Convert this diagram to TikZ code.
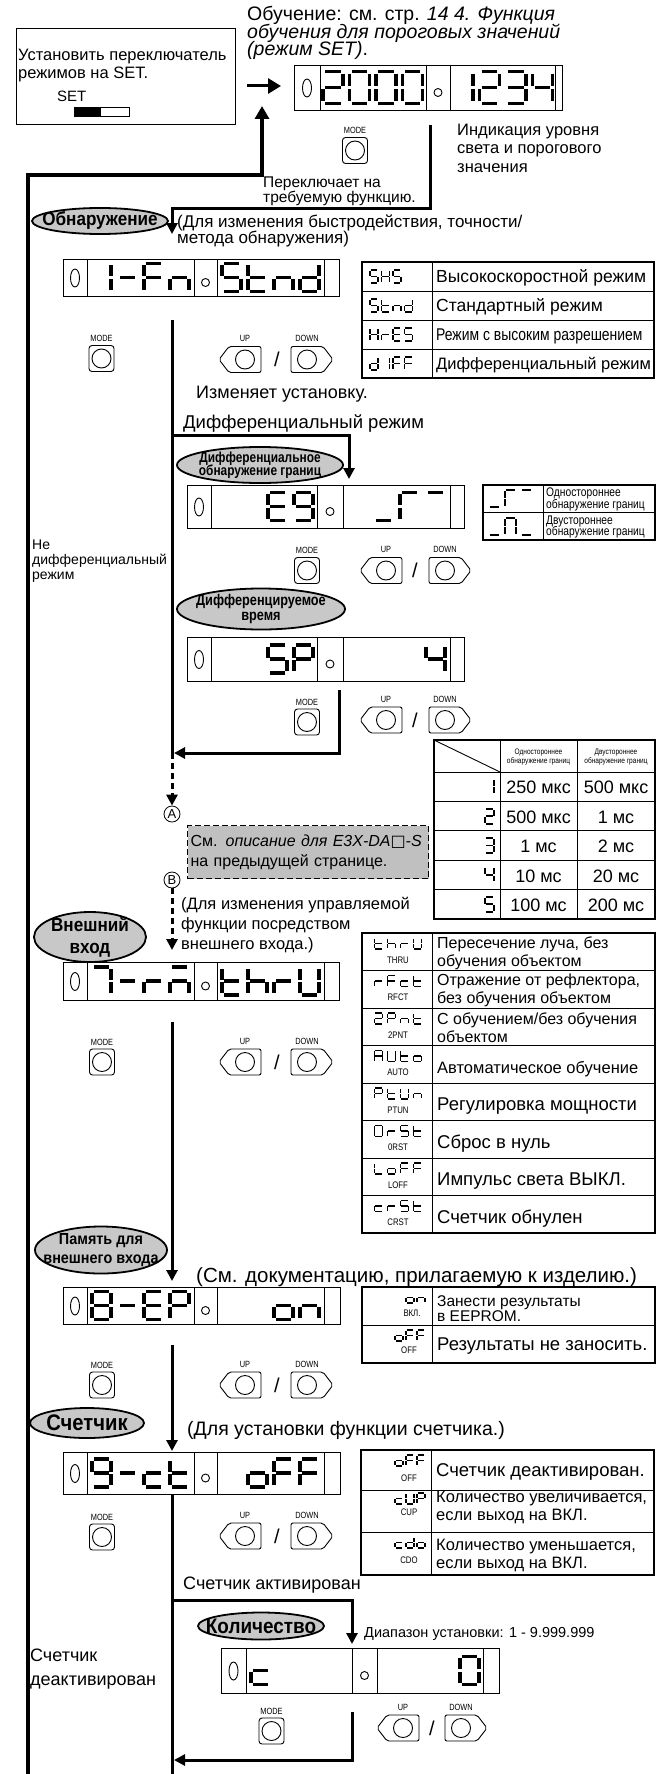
\documentclass[tikz,border=0pt]{standalone}
\usepackage{fontspec}
\setmainfont{Liberation Sans}
\newfontfamily\narrowfont[FakeStretch=0.82]{Liberation Sans}
\newfontfamily\ellfont[FakeStretch=0.9]{Liberation Sans}
\newfontfamily\symf{DejaVu Sans}
\usetikzlibrary{arrows.meta,positioning,shapes.geometric,backgrounds}
\definecolor{ellgray}{RGB}{200,200,200}
\definecolor{boxgray}{RGB}{192,192,192}
\newcommand\fsz[2]{\fontsize{#1}{#2}\selectfont\lineskiplimit=-60pt\relax}

% seven-segment pieces (unit box, y down)
\newcommand\sgdef[2]{\expandafter\def\csname sg#1\endcsname{#2}}
\sgdef{A}{(0.12,0)--(0.88,0)}
\sgdef{B}{(1,0.07)--(1,0.46)}
\sgdef{C}{(1,0.54)--(1,0.93)}
\sgdef{D}{(0.12,1)--(0.88,1)}
\sgdef{E}{(0,0.54)--(0,0.93)}
\sgdef{F}{(0,0.07)--(0,0.46)}
\sgdef{G}{(0.12,0.5)--(0.88,0.5)}
% glyphs
\newcommand\chdef[2]{\expandafter\def\csname ch#1\endcsname{#2}}
\chdef{0}{A,B,C,D,E,F}
\chdef{1}{B,C}
\chdef{2}{A,B,G,E,D}
\chdef{3}{A,B,G,C,D}
\chdef{4}{F,G,B,C}
\chdef{5}{A,F,G,C,D}
\chdef{7}{A,B,C}
\chdef{8}{A,B,C,D,E,F,G}
\chdef{9}{A,B,C,D,F,G}
\chdef{S}{A,F,G,C,D}
\chdef{m}{G}
\chdef{F}{A,F,G,E}
\chdef{n}{E,G,C}
\chdef{t}{F,E,G,D}
\chdef{d}{B,C,D,E,G}
\chdef{H}{F,B,G,E,C}
\chdef{r}{E,G}
\chdef{E}{A,F,G,E,D}
\chdef{P}{A,B,F,G,E}
\chdef{o}{G,C,D,E}
\chdef{U}{F,B,E,C,D}
\chdef{L}{F,E,D}
\chdef{c}{G,E,D}
\chdef{h}{F,E,G,C}
\chdef{A}{A,B,C,E,F,G}
\chdef{u}{D}
\chdef{a}{A}
\chdef{g}{A,F,E}
\chdef{N}{A,B,C,E,F}
\chdef{j}{A,E,G,C}

\tikzset{
  pics/sd/.style 2 args={code={%
    \foreach \sgs in #2{%
      \expandafter\let\expandafter\sgcur\csname sg\sgs\endcsname
      \draw[#1] \sgcur;}}},
  pics/modebtn/.style={code={%
    \draw[line width=0.9pt,rounded corners=3pt] (-12.5,-13) rectangle (12.5,13);
    \draw[line width=0.9pt] (0,0) circle [radius=9.5pt];
    \node[btnlbl] (-lbl) at (0,-20) {MODE};}},
  pics/upbtn/.style={code={%
    \draw[line width=0.9pt,rounded corners=2pt] (-21,0) -- (-11,-13) -- (21,-13) -- (21,13) -- (-11,13) -- cycle;
    \draw[line width=0.9pt] (5,0) circle [radius=9.5pt];
    \node[btnlbl] (-lbl) at (5,-21) {UP};}},
  pics/downbtn/.style={code={%
    \draw[line width=0.9pt,rounded corners=2pt] (21,0) -- (11,-13) -- (-21,-13) -- (-21,13) -- (11,13) -- cycle;
    \draw[line width=0.9pt] (-5,0) circle [radius=9.5pt];
    \node[btnlbl] (-lbl) at (-5,-21) {DOWN};}},
}

% row of segment glyphs: style, x, y(top), pitch, glyph list
\newcommand\segrow[5]{%
  \edef\seglist{#5}%
  \foreach \sgch [count=\i from 0] in \seglist {%
    \expandafter\let\expandafter\chcur\csname ch\sgch\endcsname
    \pic at ({#2+\i*#4},{#3}) {sd={#1}{\chcur}};}}

% inner cells of a display: node, four divider offsets
\newcommand\dispcells[5]{%
  \foreach \dx in {#2,#3,#4,#5}
    \draw[cellline] ([xshift=\dx pt]#1.north west) -- ([xshift=\dx pt]#1.south west);
  \draw[cellline] ([xshift={#2pt/2}]#1.west) ellipse [x radius=4.5pt,y radius=9pt];
  \draw[cellline] ([xshift={(#3pt+#4pt)/2},yshift=-4.5pt]#1.west) circle [radius=4pt];}

\begin{document}
\begin{tikzpicture}[x=1pt,y=-1pt,
  flow/.style={line width=3pt},
  arr/.style={flow,-{Triangle[length=11pt,width=11pt]}},
  dflow/.style={flow,dash pattern=on 6pt off 4pt},
  disp/.style={draw,line width=1pt,anchor=north west,inner sep=0pt},
  cellline/.style={line width=0.9pt},
  tbl/.style={line width=1.3pt},
  tline/.style={line width=0.9pt},
  txt/.style={inner sep=0pt,anchor=west,align=left},
  val/.style={inner sep=0pt,font=\fsz{18}{18}},
  clbl/.style={inner sep=0pt,font=\narrowfont\fsz{9.5}{10}},
  btnlbl/.style={inner sep=0pt,font=\narrowfont\fsz{9}{10}},
  hdr/.style={inner sep=0pt,align=center,font=\narrowfont\fsz{8}{9}},
  ellbg/.style={draw,line width=1.8pt,fill=ellgray},
  elltxt/.style={inner sep=0pt,align=center},
  circ/.style={circle,draw,line width=0.8pt,inner sep=0pt,minimum size=16pt,font=\fsz{13}{13}},
  seebox/.style={draw,line width=1.3pt,dash pattern=on 6pt off 3pt,fill=boxgray,anchor=north west,
    text width=235pt,inner sep=3pt,minimum height=53pt,align=left,font=\fsz{16}{20}},
  slash/.style={inner sep=0pt,font=\fsz{20}{20}},
  sgX/.style={line width=3.3pt,x=20pt,y=-32pt},
  sgL/.style={line width=3.2pt,x=19pt,y=-28pt},
  sgM/.style={line width=2pt,x=11pt,y=-17pt},
  sgD/.style={line width=1.8pt,x=9pt,y=-15pt},
  sgS/.style={line width=1.7pt,x=8pt,y=-13pt},
  sgT/.style={line width=1.5pt,x=8pt,y=-11pt}
]
\useasboundingbox (0,0) rectangle (667,1774);

% --- start: switch box and first display
\node[draw,line width=1.2pt,anchor=north west,minimum width=219pt,minimum height=96pt,inner sep=0pt] (setbox) at (16,28) {};
\node[txt,font=\fsz{16.5}{18}] (settxt) at (18,65.5) {Установить переключатель\\режимов на SET.};
\node[txt,font=\fsz{15}{16}] (setlbl) at (57,96) {SET};
\node[draw,fill=black,line width=0.9pt,anchor=north west,minimum width=25pt,minimum height=9pt,inner sep=0pt] (swk) at (74,107) {};
\node[draw,line width=0.9pt,anchor=north west,minimum width=29pt,minimum height=9pt,inner sep=0pt] (sww) at (swk.north east) {};
\node[txt,anchor=north west,font=\fsz{19.5}{17.5}] (title) at (247,6)
  {Обучение: см. стр. \textit{14 4. Функция}\\\textit{обучения для пороговых значений}\\\textit{(режим SET)}.};
\coordinate (ra1) at (247,86);
\coordinate (ra2) at (281,86);
\draw[flow,-{Triangle[length=13pt,width=15pt]}] (ra1) -- (ra2);

\node[disp,minimum width=268pt,minimum height=45pt] (d1) at (294,65) {};
\dispcells{d1}{26}{132}{156}{261}
\segrow{sgX}{323}{71.5}{26.5}{2,0,0,0}
\segrow{sgX}{453}{71.5}{26.5}{1,2,3,4}
\pic (mA) at (355,150.5) {modebtn};
\node[txt,font=\fsz{16.5}{18.5}] (indik) at (457,148) {Индикация уровня\\света и порогового\\значения};
\node[txt,font=\fsz{15.5}{15}] (perekl) at (263,191) {Переключает на\\требуемую функцию.};
\coordinate (l1a) at (430,125);
\coordinate (l1c) at (172,208);
\coordinate (l1d) at (172,234);
\draw[arr] (l1a) |- (l1c) -- (l1d);

% return loop on the left
\coordinate (lpA) at (28,1774);
\coordinate (lpB) at (28,175);
\coordinate (lpC) at (262,175);
\coordinate (lpD) at (262,106);
\draw[flow,line width=3.5pt,-{Triangle[length=13pt,width=14pt]}] (lpA) -- (lpB) -- (lpC) -- (lpD);

% --- detection
\node[elltxt,font=\ellfont\bfseries\fsz{19}{19}] (obn) at (100,221) {Обнаружение};
\node[txt,font=\fsz{17}{16}] (dlya1) at (177,231) {(Для изменения быстродействия, точности/\\метода обнаружения)};
\node[disp,minimum width=276pt,minimum height=37pt] (d2) at (63,259) {};
\dispcells{d2}{24}{131}{154}{261}
\segrow{sgL}{92}{263.5}{26}{1,m,F,n}
\segrow{sgL}{222}{263.5}{26}{S,t,n,d}

\draw[tbl] (362,262) rectangle (654,378);
\foreach \ry in {291,320,349} \draw[tline] (362,\ry) -- (654,\ry);
\draw[tline] (432,262) -- (432,378);
\foreach \cd/\tx/\fs [count=\k from 0] in {{5,H,5}/Высокоскоростной режим/17.5,
    {S,t,n,d}/Стандартный режим/17.5,
    {H,r,E,S}/{\narrowfont Режим с высоким разрешением}/17,
    {d,1,F,F}/Дифференциальный режим/16.5}{
  \segrow{sgS}{370}{262+29*\k+8}{11.5}{\cd}
  \node[txt,font=\fsz{\fs}{18}] (t1t\k) at (436,{262+29*\k+16}) {\tx};
}

\pic (mB) at (101.5,358.5) {modebtn};
\pic (uB) at (240,359.5) {upbtn};
\node[slash] (sB) at (277,359.5) {/};
\pic (dB) at (312,359.5) {downbtn};

\coordinate (f1) at (172,320);
\coordinate (f2) at (172,753);
\draw[flow] (f1) -- (f2);
\node[txt,font=\fsz{18}{18}] (izm) at (196,394) {Изменяет установку.};
\node[txt,font=\fsz{18.5}{20}] (difr) at (183,424) {Дифференциальный режим};
\coordinate (b1) at (172,435);
\coordinate (b2) at (349,435);
\coordinate (b3) at (349,479);
\draw[arr] (b1) -- (b2) -- (b3);

% --- differential edge detection
\node[elltxt,font=\narrowfont\bfseries\fsz{14.5}{13.5}] (e2) at (260,465) {Дифференциальное\\обнаружение границ};
\node[disp,minimum width=277pt,minimum height=43pt] (d3) at (187,485) {};
\dispcells{d3}{24}{130}{156}{263}
\segrow{sgL}{268}{492.5}{26}{E,9}
\segrow{sgL}{374}{492.5}{26}{u,g,a}
\draw[tbl] (483,485) rectangle (655,540);
\draw[tline] (483,512) -- (655,512);
\draw[tline] (543,485) -- (543,540);
\segrow{sgM}{489}{490}{16}{u,g,a}
\segrow{sgM}{489}{518}{16}{u,N,u}
\node[txt,font=\narrowfont\fsz{12.5}{11.5}] (t2a) at (546,499.5) {Одностороннее\\обнаружение границ};
\node[txt,font=\narrowfont\fsz{12.5}{11.5}] (t2b) at (546,527) {Двустороннее\\обнаружение границ};
\node[txt,font=\fsz{14}{15}] (nedif) at (32,561.5) {Не\\дифференциальный\\режим};
\pic (mC) at (307,570.5) {modebtn};
\pic (uC) at (381,570.5) {upbtn};
\node[slash] (sC) at (415,570.5) {/};
\pic (dC) at (450,570.5) {downbtn};

% --- differential time
\node[elltxt,font=\narrowfont\bfseries\fsz{15.5}{15}] (e3) at (261,609) {Дифференцируемое\\время};
\node[disp,minimum width=277pt,minimum height=44pt] (d4) at (187,637) {};
\dispcells{d4}{24}{130}{156}{263}
\segrow{sgL}{268}{645}{26}{S,P}
\segrow{sgL}{426}{645}{26}{4}
\pic (mD) at (307,722) {modebtn};
\pic (uD) at (381,720) {upbtn};
\node[slash] (sD) at (415,720) {/};
\pic (dD) at (450,720) {downbtn};
\coordinate (g1) at (339,690);
\coordinate (g2) at (339,753);
\coordinate (g3) at (174,753);
\draw[arr] (g1) -- (g2) -- (g3);

\draw[tbl] (434,740) rectangle (655,919);
\draw[tline] (500,740) -- (500,919);
\draw[tline] (577,740) -- (577,919);
\foreach \ry in {772,801.4,830.8,860.2,889.6} \draw[tline] (434,\ry) -- (655,\ry);
\draw[tline] (434,740) -- (500,772);
\node[hdr] (t3h1) at (538.5,757) {Одностороннее\\обнаружение границ};
\node[hdr] (t3h2) at (616,757) {Двустороннее\\обнаружение границ};
\foreach \dg/\va/\vb [count=\k from 0] in {1/250 мкс/500 мкс,2/500 мкс/1 мс,3/1 мс/2 мс,4/10 мс/20 мс,5/100 мс/200 мс}{
  \segrow{sgD}{485}{772+29.4*\k+7.2}{0}{\dg}
  \node[val] (t3a\k) at (538.5,{772+29.4*\k+15.7}) {\va};
  \node[val] (t3b\k) at (616,{772+29.4*\k+15.7}) {\vb};
}

% --- skipped part
\coordinate (h1) at (172,753);
\node[circ] (cA) at (172,814) {A};
\draw[dflow,-{Triangle[length=11pt,width=11pt]}] (h1) -- (cA.north);
\node[seebox] (see) at (187,825) {См. \textit{описание для E3X-DA{\symf □}-S}\\на предыдущей странице.};
\node[circ] (cB) at (172,880) {B};
\coordinate (k2) at (172,950);
\draw[dflow,-{Triangle[length=11pt,width=11pt]}] (cB.south) -- (k2);

% --- external input
\node[elltxt,font=\ellfont\bfseries\fsz{19}{22}] (e4) at (90,937) {Внешний\\вход};
\node[txt,font=\fsz{16.5}{20}] (dlya2) at (181,925) {(Для изменения управляемой\\функции посредством\\внешнего входа.)};
\node[disp,minimum width=276pt,minimum height=38pt] (d5) at (63,962) {};
\dispcells{d5}{24}{131}{154}{261}
\segrow{sgL}{92}{967}{26}{7,m,r,j}
\segrow{sgL}{222}{967}{26}{t,h,r,U}

\draw[tbl] (362,933) rectangle (655,1233);
\foreach \k in {1,...,7} \draw[tline] (362,{933+37.5*\k}) -- (655,{933+37.5*\k});
\draw[tline] (432,933) -- (432,1233);
\foreach \cd/\lb/\tx/\fs/\ty [count=\k from 0] in {
    {t,h,r,U}/THRU/{Пересечение луча, без\\обучения объектом}/16/20,
    {r,F,c,t}/RFCT/{Отражение от рефлектора,\\без обучения объектом}/16/20,
    {2,P,n,t}/2PNT/{С обучением/без обучения\\объектом}/16/20,
    {A,U,t,o}/AUTO/{Автоматическое обучение}/16.5/24,
    {P,t,U,n}/PTUN/{Регулировка мощности}/18.5/23,
    {0,r,S,t}/0RST/{Сброс в нуль}/18.5/23,
    {L,o,F,F}/LOFF/{Импульс света ВЫКЛ.}/18.5/23,
    {c,r,S,t}/CRST/{Счетчик обнулен}/18.5/23}{
  \segrow{sgT}{374.5}{933+37.5*\k+5}{13}{\cd}
  \node[clbl] (t4l\k) at (398,{933+37.5*\k+27}) {\lb};
  \node[txt,font=\fsz{\fs}{18}] (t4t\k) at (437,{933+37.5*\k+\ty}) {\tx};
}

\pic (mE) at (102,1062) {modebtn};
\pic (uE) at (240,1062) {upbtn};
\node[slash] (sE) at (277,1062) {/};
\pic (dE) at (312,1062) {downbtn};
\coordinate (m1) at (172,1022);
\coordinate (m2) at (172,1281);
\draw[arr] (m1) -- (m2);

% --- memory for external input
\node[elltxt,font=\ellfont\bfseries\fsz{16}{19}] (e5) at (101,1250) {Память для\\внешнего входа};
\node[txt,font=\fsz{20.5}{20}] (docum) at (196,1277) {(См. документацию, прилагаемую к изделию.)};
\node[disp,minimum width=277pt,minimum height=37pt] (d6) at (63,1287) {};
\dispcells{d6}{24}{131}{154}{261}
\segrow{sgL}{92}{1291.5}{26}{8,m,E,P}
\segrow{sgL}{274}{1291.5}{26}{o,n}
\draw[tbl] (362,1287) rectangle (655,1363);
\draw[tline] (362,1325) -- (655,1325);
\draw[tline] (432,1287) -- (432,1363);
\segrow{sgT}{406}{1292}{11}{o,n}
\node[clbl] (t5l1) at (412,1313) {ВКЛ.};
\node[txt,font=\fsz{15.5}{15}] (t5t1) at (437,1309) {Занести результаты\\в EEPROM.};
\segrow{sgT}{395}{1330}{11}{o,F,F}
\node[clbl] (t5l2) at (409,1350) {OFF};
\node[txt,font=\fsz{18.5}{20}] (t5t2) at (437,1346) {Результаты не заносить.};
\pic (mF) at (102,1385) {modebtn};
\pic (uF) at (240,1385) {upbtn};
\node[slash] (sF) at (277,1385) {/};
\pic (dF) at (312,1385) {downbtn};
\coordinate (n1) at (172,1345);
\coordinate (n2) at (172,1451);
\draw[arr] (n1) -- (n2);

% --- counter
\node[elltxt,font=\ellfont\bfseries\fsz{22.5}{20}] (e6) at (87,1423) {Счетчик};
\node[txt,font=\fsz{19.5}{20}] (dlya3) at (187,1430) {(Для установки функции счетчика.)};
\node[disp,minimum width=277pt,minimum height=42pt] (d7) at (63,1452) {};
\dispcells{d7}{24}{131}{154}{261}
\segrow{sgL}{92}{1459}{26}{9,m,c,t}
\segrow{sgL}{248}{1459}{26}{o,F,F}
\draw[tbl] (361,1450) rectangle (654,1575);
\draw[tline] (361,1490) -- (654,1490);
\draw[tline] (361,1532) -- (654,1532);
\draw[tline] (431,1450) -- (431,1575);
\segrow{sgT}{395}{1455}{11}{o,F,F}
\node[clbl] (t6l1) at (409,1478) {OFF};
\node[txt,font=\fsz{18.5}{20}] (t6t1) at (436,1472) {Счетчик деактивирован.};
\segrow{sgT}{395}{1493}{11}{c,U,P}
\node[clbl] (t6l2) at (409,1512) {CUP};
\node[txt,font=\fsz{16.5}{18}] (t6t2) at (436,1507.5) {Количество увеличивается,\\если выход на ВКЛ.};
\segrow{sgT}{395}{1537}{11}{c,d,o}
\node[clbl] (t6l3) at (409,1560) {CDO};
\node[txt,font=\fsz{16.5}{18}] (t6t3) at (436,1555) {Количество уменьшается,\\если выход на ВКЛ.};
\pic (mG) at (102,1537) {modebtn};
\pic (uG) at (240,1536) {upbtn};
\node[slash] (sG) at (277,1536) {/};
\pic (dG) at (312,1536) {downbtn};
\coordinate (p1) at (172,1774);
\draw[flow] (d7.south -| p1) -- (p1);
\node[txt,font=\fsz{18}{18}] (aktiv) at (183,1585) {Счетчик активирован};
\coordinate (q1) at (172,1600);
\coordinate (q2) at (352,1600);
\coordinate (q3) at (352,1644);
\draw[arr] (q1) -- (q2) -- (q3);

% --- count value
\node[elltxt,font=\ellfont\bfseries\fsz{21}{19}] (e7) at (261,1626) {Количество};
\node[txt,font=\fsz{14.5}{16}] (diap) at (364,1634) {Диапазон установки: 1 - 9.999.999};
\node[disp,minimum width=278pt,minimum height=45pt] (d8) at (221,1648) {};
\dispcells{d8}{25}{131}{156}{262}
\segrow{sgL}{251}{1656.5}{26}{c}
\segrow{sgL}{460}{1656.5}{26}{0}
\node[txt,font=\fsz{18}{24}] (deakt) at (30,1669.5) {Счетчик\\деактивирован};
\pic (mH) at (271.5,1731) {modebtn};
\pic (uH) at (398,1728) {upbtn};
\node[slash] (sH) at (432,1728) {/};
\pic (dH) at (466,1728) {downbtn};
\coordinate (r1) at (352,1712);
\coordinate (r2) at (352,1760);
\coordinate (r3) at (174,1760);
\draw[arr] (r1) -- (r2) -- (r3);

% grey ellipses behind their labels
\begin{scope}[on background layer]
\draw[ellbg] (obn.center) ellipse [x radius=68pt,y radius=13pt];
\draw[ellbg] (e2.center) ellipse [x radius=83pt,y radius=18pt];
\draw[ellbg] (e3.center) ellipse [x radius=84pt,y radius=20.5pt];
\draw[ellbg] (e4.center) ellipse [x radius=56pt,y radius=25pt];
\draw[ellbg] (e5.center) ellipse [x radius=66pt,y radius=23.5pt];
\draw[ellbg] (e6.center) ellipse [x radius=57pt,y radius=15pt];
\draw[ellbg] (e7.center) ellipse [x radius=63pt,y radius=13.5pt];
\end{scope}
\end{tikzpicture}
\end{document}
